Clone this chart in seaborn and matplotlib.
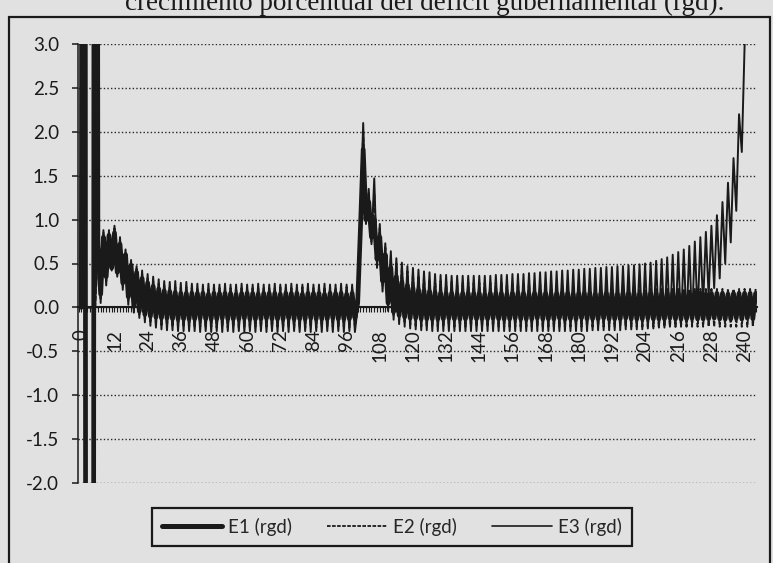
import numpy as np
import pandas as pd
import matplotlib
matplotlib.use("Agg")
import matplotlib.pyplot as plt
import seaborn as sns
from matplotlib.patches import Rectangle
from matplotlib.lines import Line2D
from matplotlib.ticker import MultipleLocator

# ---------------------------------------------------------------------------
# Data
# ---------------------------------------------------------------------------
title = "crecimiento porcentual del déficit gubernamental (rgd)."
series_names = ["E1 (rgd)", "E2 (rgd)", "E3 (rgd)"]

x_tick_pos = [0, 12, 24, 36, 48, 60, 72, 84, 96, 108, 120, 132, 144, 156,
              168, 180, 192, 204, 216, 228, 240]
x_tick_labels = ["0", "12", "24", "36", "48", "60", "72", "84", "96", "108",
                 "120", "132", "144", "156", "168", "180", "192", "204",
                 "216", "228", "240"]
y_ticks = [-2.0, -1.5, -1.0, -0.5, 0.0, 0.5, 1.0, 1.5, 2.0, 2.5, 3.0]
y_tick_labels = ["-2.0", "-1.5", "-1.0", "-0.5", "0.0", "0.5", "1.0", "1.5",
                 "2.0", "2.5", "3.0"]

e1 = [
    0.00, 30.0, -30.0, -30.0, -30.0, 30.0, 0.70, 0.15, 0.80, 0.35,
    0.82, 0.45, 0.85, 0.40, 0.72, 0.28, 0.60, 0.12, 0.48, 0.02,
    0.40, -0.04, 0.33, -0.08, 0.28, -0.10, 0.24, -0.11, 0.21, -0.12,
    0.19, -0.12, 0.18, -0.13, 0.17, -0.13, 0.16, -0.13, 0.16, -0.13,
    0.16, -0.13, 0.16, -0.12, 0.16, -0.13, 0.15, -0.13, 0.16, -0.13,
    0.16, -0.12, 0.16, -0.13, 0.16, -0.13, 0.15, -0.13, 0.16, -0.12,
    0.16, -0.13, 0.16, -0.13, 0.15, -0.13, 0.16, -0.12, 0.16, -0.13,
    0.16, -0.13, 0.15, -0.13, 0.16, -0.12, 0.16, -0.13, 0.16, -0.13,
    0.15, -0.13, 0.16, -0.12, 0.16, -0.13, 0.16, -0.13, 0.15, -0.13,
    0.16, -0.12, 0.16, -0.13, 0.16, -0.13, 0.15, -0.13, 0.16, -0.12,
    0.05, 0.90, 1.80, 1.00, 1.20, 0.80, 1.00, 0.55, 0.80, 0.30,
    0.60, 0.05, 0.45, -0.05, 0.35, -0.09, 0.29, -0.11, 0.25, -0.12,
    0.22, -0.12, 0.20, -0.13, 0.19, -0.13, 0.18, -0.13, 0.17, -0.13,
    0.16, -0.13, 0.16, -0.12, 0.16, -0.13, 0.15, -0.13, 0.16, -0.13,
    0.16, -0.12, 0.16, -0.13, 0.16, -0.13, 0.15, -0.13, 0.16, -0.12,
    0.16, -0.13, 0.16, -0.13, 0.15, -0.13, 0.16, -0.12, 0.16, -0.13,
    0.16, -0.13, 0.15, -0.13, 0.16, -0.12, 0.16, -0.13, 0.16, -0.13,
    0.15, -0.13, 0.16, -0.12, 0.16, -0.13, 0.16, -0.13, 0.15, -0.13,
    0.16, -0.12, 0.16, -0.13, 0.16, -0.13, 0.15, -0.13, 0.16, -0.12,
    0.16, -0.13, 0.16, -0.13, 0.15, -0.13, 0.16, -0.12, 0.16, -0.13,
    0.16, -0.13, 0.15, -0.13, 0.16, -0.12, 0.16, -0.13, 0.16, -0.13,
    0.15, -0.13, 0.16, -0.12, 0.16, -0.13, 0.16, -0.13, 0.15, -0.13,
    0.16, -0.12, 0.16, -0.13, 0.16, -0.13, 0.15, -0.13, 0.16, -0.12,
    0.16, -0.13, 0.16, -0.13, 0.15, -0.13, 0.16, -0.12, 0.16, -0.13,
    0.16, -0.12, 0.16, -0.13, 0.16,
]

e2 = [
    0.00, 0.00, 0.00, 0.00, 0.00, 0.00, 0.72, 0.10, 0.85, 0.30,
    0.88, 0.44, 0.90, 0.38, 0.77, 0.24, 0.63, 0.08, 0.51, -0.02,
    0.44, -0.08, 0.38, -0.13, 0.34, -0.16, 0.30, -0.18, 0.27, -0.20,
    0.25, -0.21, 0.24, -0.22, 0.23, -0.22, 0.22, -0.22, 0.23, -0.22,
    0.22, -0.23, 0.22, -0.22, 0.22, -0.23, 0.22, -0.22, 0.23, -0.23,
    0.22, -0.22, 0.22, -0.23, 0.22, -0.22, 0.23, -0.23, 0.22, -0.22,
    0.22, -0.23, 0.22, -0.22, 0.23, -0.23, 0.22, -0.22, 0.22, -0.23,
    0.22, -0.22, 0.23, -0.23, 0.22, -0.22, 0.22, -0.23, 0.22, -0.22,
    0.23, -0.23, 0.22, -0.22, 0.22, -0.23, 0.22, -0.22, 0.23, -0.23,
    0.22, -0.22, 0.22, -0.23, 0.22, -0.22, 0.23, -0.23, 0.22, -0.22,
    0.02, 1.00, 2.00, 0.98, 1.30, 0.75, 1.30, 0.50, 0.90, 0.25,
    0.68, 0.02, 0.58, -0.10, 0.50, -0.15, 0.45, -0.18, 0.41, -0.20,
    0.38, -0.21, 0.36, -0.22, 0.34, -0.22, 0.32, -0.22, 0.31, -0.22,
    0.30, -0.22, 0.29, -0.22, 0.29, -0.22, 0.28, -0.22, 0.28, -0.22,
    0.28, -0.22, 0.28, -0.22, 0.28, -0.22, 0.28, -0.22, 0.28, -0.22,
    0.28, -0.22, 0.28, -0.22, 0.28, -0.22, 0.28, -0.22, 0.28, -0.22,
    0.28, -0.22, 0.28, -0.22, 0.27, -0.22, 0.27, -0.22, 0.27, -0.22,
    0.26, -0.22, 0.26, -0.22, 0.25, -0.22, 0.25, -0.22, 0.24, -0.22,
    0.24, -0.22, 0.23, -0.22, 0.23, -0.22, 0.22, -0.22, 0.22, -0.22,
    0.22, -0.22, 0.21, -0.22, 0.21, -0.22, 0.21, -0.22, 0.21, -0.22,
    0.21, -0.22, 0.21, -0.22, 0.21, -0.22, 0.21, -0.22, 0.21, -0.22,
    0.21, -0.22, 0.21, -0.22, 0.21, -0.22, 0.21, -0.22, 0.21, -0.22,
    0.21, -0.22, 0.21, -0.22, 0.21, -0.22, 0.21, -0.22, 0.21, -0.22,
    0.21, -0.22, 0.21, -0.22, 0.21, -0.22, 0.21, -0.22, 0.21, -0.22,
    0.21, -0.22, 0.21, -0.22, 0.21,
]

e3 = [
    0.00, 0.00, 0.00, 0.00, 0.00, 0.00, 0.75, 0.05, 0.88, 0.25,
    0.85, 0.42, 0.93, 0.35, 0.80, 0.20, 0.66, 0.03, 0.54, -0.06,
    0.47, -0.12, 0.42, -0.17, 0.38, -0.21, 0.35, -0.23, 0.32, -0.25,
    0.30, -0.26, 0.29, -0.26, 0.30, -0.27, 0.28, -0.27, 0.29, -0.27,
    0.27, -0.27, 0.27, -0.28, 0.26, -0.27, 0.27, -0.28, 0.26, -0.27,
    0.26, -0.28, 0.27, -0.27, 0.26, -0.28, 0.26, -0.27, 0.27, -0.28,
    0.26, -0.27, 0.26, -0.28, 0.27, -0.27, 0.26, -0.28, 0.26, -0.27,
    0.27, -0.28, 0.26, -0.27, 0.26, -0.28, 0.27, -0.27, 0.26, -0.28,
    0.26, -0.27, 0.27, -0.28, 0.26, -0.27, 0.26, -0.28, 0.27, -0.27,
    0.26, -0.28, 0.26, -0.27, 0.27, -0.28, 0.26, -0.27, 0.26, -0.28,
    0.00, 1.05, 2.10, 0.95, 1.35, 0.72, 1.47, 0.45, 0.95, 0.18,
    0.73, -0.04, 0.64, -0.14, 0.56, -0.19, 0.51, -0.22, 0.47, -0.24,
    0.45, -0.25, 0.43, -0.26, 0.41, -0.26, 0.40, -0.27, 0.38, -0.27,
    0.37, -0.27, 0.37, -0.27, 0.36, -0.27, 0.36, -0.27, 0.36, -0.27,
    0.36, -0.27, 0.36, -0.27, 0.36, -0.27, 0.36, -0.27, 0.36, -0.27,
    0.37, -0.27, 0.37, -0.27, 0.37, -0.27, 0.38, -0.27, 0.38, -0.27,
    0.38, -0.27, 0.39, -0.27, 0.39, -0.27, 0.40, -0.27, 0.40, -0.27,
    0.41, -0.27, 0.41, -0.27, 0.42, -0.27, 0.42, -0.27, 0.43, -0.27,
    0.43, -0.27, 0.44, -0.27, 0.44, -0.26, 0.45, -0.26, 0.45, -0.26,
    0.46, -0.26, 0.46, -0.26, 0.47, -0.26, 0.47, -0.25, 0.48, -0.25,
    0.48, -0.25, 0.49, -0.25, 0.50, -0.24, 0.51, -0.24, 0.53, -0.23,
    0.55, -0.23, 0.57, -0.22, 0.60, -0.22, 0.63, -0.21, 0.66, -0.20,
    0.70, -0.19, 0.75, -0.10, 0.80, 0.02, 0.86, 0.12, 0.93, 0.22,
    1.05, 0.33, 1.20, 0.50, 1.42, 0.74, 1.70, 1.10, 2.20, 1.77,
    2.97, 3.60, 4.50, 5.20, 6.00,
]

# ---------------------------------------------------------------------------
# Style
# ---------------------------------------------------------------------------
BG = "#e1e1e1"
INK = "#1a1a1a"
FS = 13.5

sns.set_theme(style="white")
plt.rcParams["font.family"] = ["Lato", "DejaVu Sans"]

W, H = 773, 563
fig = plt.figure(figsize=(W / 100, H / 100), dpi=100, facecolor=BG)

# plot area in pixel terms: x 78..757, y 44 (top) .. 483 (bottom)
ax = fig.add_axes([78 / W, 1 - 483 / H, (757 - 78) / W, (483 - 44) / H])
ax.set_facecolor(BG)

line_specs = [
    (e1, 3.4, None),
    (e2, 1.4, (2.5, 1.0)),
    (e3, 1.4, None),
]
for vals, lw, dash in line_specs:
    df = pd.DataFrame({"periodo": np.arange(len(vals)), "valor": vals})
    sns.lineplot(data=df, x="periodo", y="valor", ax=ax, color=INK,
                 linewidth=lw, estimator=None, sort=False, legend=False)
    ln = ax.lines[-1]
    if dash is not None:
        ln.set_dashes(dash)
    ln.set_zorder(3)

ax.set_xlim(-1.2, 244.5)
ax.set_ylim(-2.0, 3.0)
ax.set_xlabel("")
ax.set_ylabel("")

# axes: y on the left, x crossing at zero
for side in ("top", "right"):
    ax.spines[side].set_visible(False)
ax.spines["left"].set_color(INK)
ax.spines["left"].set_linewidth(1.1)
ax.spines["bottom"].set_position(("data", 0.0))
ax.spines["bottom"].set_color(INK)
ax.spines["bottom"].set_linewidth(1.5)
ax.spines["bottom"].set_zorder(2)

ax.set_yticks(y_ticks)
ax.set_yticklabels(y_tick_labels)
ax.set_xticks(x_tick_pos)
ax.set_xticklabels(x_tick_labels, rotation=90)
ax.xaxis.set_minor_locator(MultipleLocator(1))

ax.tick_params(axis="y", which="major", direction="out", length=4.5, width=1.1,
               pad=9, labelsize=FS, colors=INK, left=True)
ax.tick_params(axis="x", which="both", direction="out", length=3.5, width=0.8,
               pad=12, labelsize=FS, colors=INK, bottom=True)

ax.yaxis.grid(True, linestyle=(0, (1, 1.6)), color="#262626", linewidth=1.0)
ax.xaxis.grid(False)
ax.set_axisbelow(True)

# legend
handles = [
    Line2D([], [], color=INK, linewidth=3.6),
    Line2D([], [], color=INK, linewidth=1.3, dashes=(2.0, 0.8)),
    Line2D([], [], color=INK, linewidth=1.2),
]
leg = fig.legend(handles, series_names, loc="center",
                 bbox_to_anchor=(392 / W, 1 - 527 / H), ncol=3,
                 frameon=True, fancybox=False, fontsize=FS,
                 handlelength=3.2, handletextpad=0.3, columnspacing=1.9,
                 borderpad=0.55, edgecolor=INK, facecolor=BG, framealpha=1)
leg.get_frame().set_linewidth(1.6)

# outer chart frame
fig.patches.append(Rectangle((9 / W, -0.02), (770 - 9) / W, 1.02 - 17 / H,
                             transform=fig.transFigure, fill=False,
                             edgecolor=INK, linewidth=1.6))

# heading above the frame (its upper part runs past the top edge)
fig.text(425 / W, 1 - 10 / H, title, ha="center", va="baseline",
         family=["Liberation Serif", "DejaVu Serif"], fontsize=19.5,
         color=INK)

fig.savefig("out.png", dpi=100, facecolor=BG)
